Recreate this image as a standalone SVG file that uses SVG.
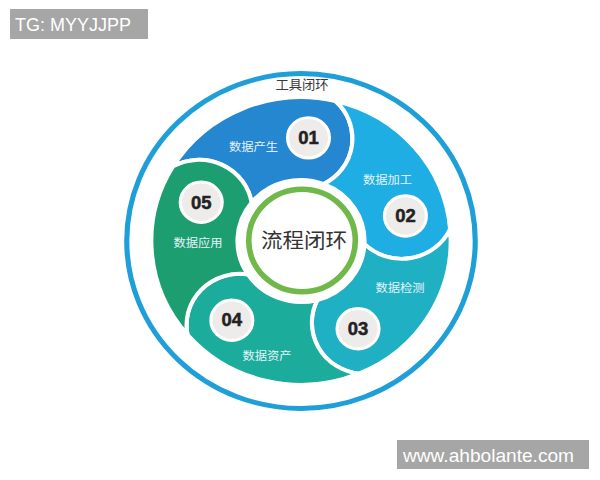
<svg xmlns="http://www.w3.org/2000/svg" width="600" height="480" viewBox="0 0 600 480">
<style>
.petal{stroke:#ffffff;stroke-width:4;stroke-linejoin:round}
.num{fill:#eeebeb;stroke:#ffffff;stroke-width:3}
.numt{font-family:"Liberation Sans",Arial,sans-serif;font-weight:bold;font-size:18px;fill:#222222;stroke:#222222;stroke-width:0.5;text-anchor:middle}
.lbl{font-family:"Noto Sans CJK SC","Noto Sans",sans-serif;font-size:12px;fill:#e4f3fa;text-anchor:middle}
.wm{fill:#a6a6a6}
.wmt{font-family:"Liberation Sans",Arial,sans-serif;font-size:18px;fill:#ffffff}
</style>
<rect width="600" height="480" fill="#ffffff"/>
<g id="watermark-tg">
<rect class="wm" x="10" y="9" width="138" height="30"/>
<text class="wmt" x="15" y="31">TG: MYYJJPP</text>
</g>
<g id="diagram" transform="translate(301,241) scale(1.025,0.985)">
<g id="ring-tools">
<circle cx="0" cy="0" r="170" fill="none" stroke="#1e9fd8" stroke-width="5"/>
<text x="1" y="-154" style="font-family:'Noto Sans CJK SC','Noto Sans',sans-serif;font-size:13px;fill:#3a3a3a;text-anchor:middle">工具闭环</text>
</g>
<g id="node-01">
<path class="petal" fill="#2487cf" d="M-124.74,-75.85 A146,146 0 0 1 33.58,-142.09 A52,52 0 0 1 22.22,-57.88 A62,62 0 0 0 -48.18,-39.02 A52,52 0 0 0 -124.74,-75.85Z"/>
<circle class="num" cx="7.32" cy="-104.74" r="20.5"/>
<text class="numt" x="7.32" y="-98.4">01</text>
<text class="lbl" x="-46.3" y="-91.5">数据产生</text>
</g>
<g id="node-02">
<path class="petal" fill="#1eaee3" d="M33.58,-142.09 A146,146 0 0 1 145.51,-11.96 A52,52 0 0 1 61.92,3.25 A62,62 0 0 0 22.22,-57.88 A52,52 0 0 0 33.58,-142.09Z"/>
<circle class="num" cx="101.88" cy="-25.4" r="20.5"/>
<text class="numt" x="101.88" y="-19.1">02</text>
<text class="lbl" x="84.4" y="-57.7">数据加工</text>
</g>
<g id="node-03">
<path class="petal" fill="#1fb0c4" d="M145.51,-11.96 A146,146 0 0 1 56.34,134.69 A52,52 0 0 1 16.05,59.89 A62,62 0 0 0 61.92,3.25 A52,52 0 0 0 145.51,-11.96Z"/>
<circle class="num" cx="55.64" cy="89.05" r="20.5"/>
<text class="numt" x="55.64" y="95.4">03</text>
<text class="lbl" x="96.6" y="51.9">数据检测</text>
</g>
<g id="node-04">
<path class="petal" fill="#1cac9b" d="M56.34,134.69 A146,146 0 0 1 -110.69,95.21 A52,52 0 0 1 -52,33.77 A62,62 0 0 0 16.05,59.89 A52,52 0 0 0 56.34,134.69Z"/>
<circle class="num" cx="-67.49" cy="80.43" r="20.5"/>
<text class="numt" x="-67.49" y="86.7">04</text>
<text class="lbl" x="-33.2" y="121">数据资产</text>
</g>
<g id="node-05">
<path class="petal" fill="#1c9e70" d="M-110.69,95.21 A146,146 0 0 1 -124.74,-75.85 A52,52 0 0 1 -48.18,-39.02 A62,62 0 0 0 -52,33.77 A52,52 0 0 0 -110.69,95.21Z"/>
<circle class="num" cx="-97.35" cy="-39.33" r="20.5"/>
<text class="numt" x="-97.35" y="-33">05</text>
<text class="lbl" x="-100.5" y="6.2">数据应用</text>
</g>
<g id="center">
<circle cx="1" cy="-0.5" r="52" fill="#ffffff" stroke="#70b84a" stroke-width="5.5"/>
<text x="3" y="7" style="font-family:'Noto Sans CJK SC','Noto Sans',sans-serif;font-size:21px;fill:#333333;text-anchor:middle">流程闭环</text>
</g>
</g>
<g id="watermark-url">
<rect class="wm" x="397" y="440" width="192" height="29"/>
<text class="wmt" x="403" y="462" textLength="171" lengthAdjust="spacingAndGlyphs">www.ahbolante.com</text>
</g>
</svg>
